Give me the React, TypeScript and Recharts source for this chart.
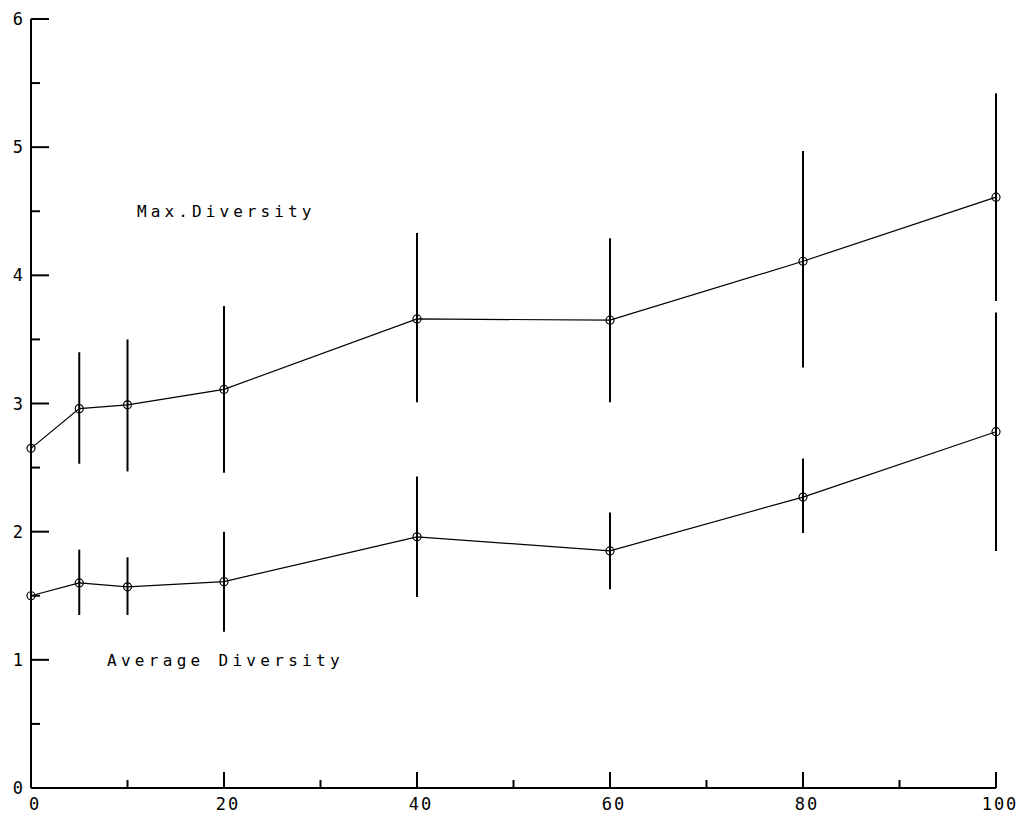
import { ComposedChart, Line, XAxis, YAxis, ErrorBar } from 'recharts'

document.body.style.margin = '0'

const xValues = [0, 5, 10, 20, 40, 60, 80, 100]
const maxMean = [2.65, 2.96, 2.99, 3.11, 3.66, 3.65, 4.11, 4.61]
const maxLow = [2.32, 2.53, 2.47, 2.46, 3.01, 3.01, 3.28, 3.8]
const maxHigh = [2.99, 3.4, 3.5, 3.76, 4.33, 4.29, 4.97, 5.42]
const avgMean = [1.5, 1.6, 1.57, 1.61, 1.96, 1.85, 2.27, 2.78]
const avgLow = [1.18, 1.35, 1.35, 1.22, 1.49, 1.55, 1.99, 1.85]
const avgHigh = [1.84, 1.86, 1.8, 2.0, 2.43, 2.15, 2.57, 3.71]

const xTicks = [0, 10, 20, 30, 40, 50, 60, 70, 80, 90, 100]
const xLabels = [0, 20, 40, 60, 80, 100]
const yTicks = [0, 0.5, 1, 1.5, 2, 2.5, 3, 3.5, 4, 4.5, 5, 5.5, 6]

const data = xValues.map((x, i) => ({
  x,
  maxD: maxMean[i],
  maxErr: [maxMean[i] - maxLow[i], maxHigh[i] - maxMean[i]],
  avgD: avgMean[i],
  avgErr: [avgMean[i] - avgLow[i], avgHigh[i] - avgMean[i]],
}))

const FONT = '"DejaVu Sans Mono", monospace'

function XTick(props: any) {
  const { x, payload } = props
  const major = xLabels.includes(payload.value)
  return (
    <g>
      <line x1={x} x2={x} y1={788} y2={788 - (major ? 16 : 8)} stroke="#000" strokeWidth={2} />
      {major && (
        <text x={x + 4} y={810} textAnchor="middle" fontFamily={FONT} fontSize={17} letterSpacing={2} fill="#000">
          {payload.value}
        </text>
      )}
    </g>
  )
}

function YTick(props: any) {
  const { y, payload } = props
  const major = Number.isInteger(payload.value)
  return (
    <g>
      <line x1={31} x2={31 + (major ? 18 : 9)} y1={y} y2={y} stroke="#000" strokeWidth={2} />
      {major && (
        <text x={23} y={y + 6} textAnchor="end" fontFamily={FONT} fontSize={17} fill="#000">
          {payload.value}
        </text>
      )}
    </g>
  )
}

const dot = { r: 4, stroke: '#000', strokeWidth: 1.2, fill: 'none' }

export default function App() {
  return (
    <div style={{ position: 'relative', width: 1028, height: 817, background: '#fff' }}>
      <ComposedChart
        width={1028}
        height={817}
        data={data}
        margin={{ top: 19, right: 32, bottom: 28, left: 30 }}
      >
        <XAxis
          dataKey="x"
          type="number"
          domain={[0, 100]}
          ticks={xTicks}
          interval={0}
          height={1}
          tickLine={false}
          axisLine={{ stroke: '#000', strokeWidth: 2 }}
          tick={<XTick />}
        />
        <YAxis
          type="number"
          domain={[0, 6]}
          ticks={yTicks}
          interval={0}
          width={1}
          tickLine={false}
          axisLine={{ stroke: '#000', strokeWidth: 2 }}
          tick={<YTick />}
        />
        <Line dataKey="maxD" stroke="#000" strokeWidth={1.2} dot={dot} isAnimationActive={false}>
          <ErrorBar dataKey="maxErr" direction="y" width={0} stroke="#000" strokeWidth={2} isAnimationActive={false} />
        </Line>
        <Line dataKey="avgD" stroke="#000" strokeWidth={1.2} dot={dot} isAnimationActive={false}>
          <ErrorBar dataKey="avgErr" direction="y" width={0} stroke="#000" strokeWidth={2} isAnimationActive={false} />
        </Line>
      </ComposedChart>
      <div style={{ position: 'absolute', left: 137, top: 202, fontFamily: FONT, fontSize: 16, letterSpacing: 4.1, lineHeight: '20px', color: '#000' }}>
        Max.Diversity
      </div>
      <div style={{ position: 'absolute', left: 107, top: 651, fontFamily: FONT, fontSize: 16, letterSpacing: 4.3, lineHeight: '20px', color: '#000' }}>
        Average Diversity
      </div>
    </div>
  )
}
